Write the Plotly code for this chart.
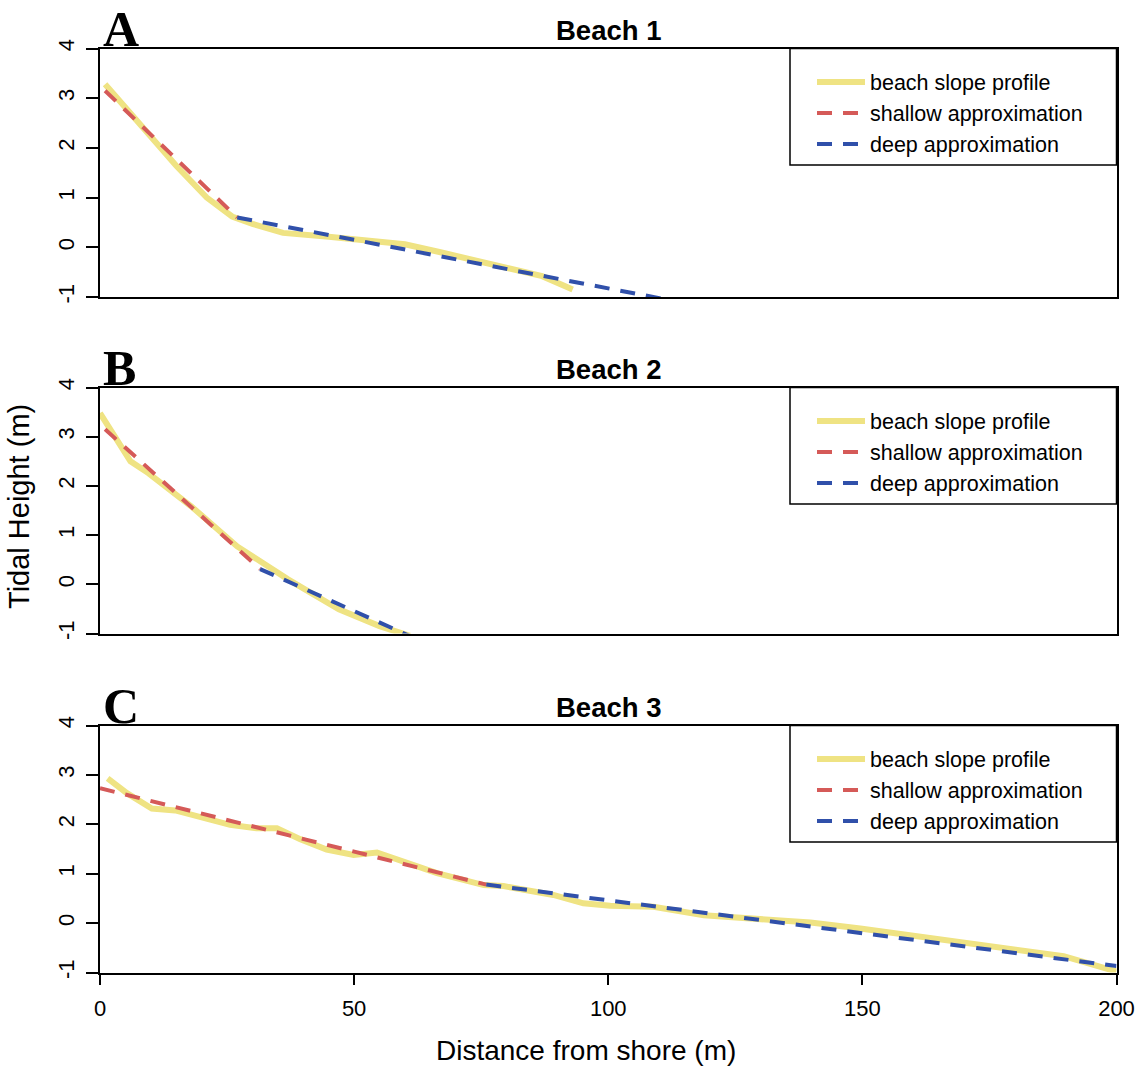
import plotly.graph_objects as go

# ---------------- data ----------------
profile_a_x = [1, 5, 10, 15, 21, 26, 30, 36, 45, 55, 60, 67, 75, 87, 93]
profile_a_y = [3.28, 2.82, 2.22, 1.64, 1.0, 0.62, 0.47, 0.29, 0.21, 0.09, 0.06, -0.1, -0.3, -0.58, -0.85]
shallow_a_x = [1, 27]
shallow_a_y = [3.15, 0.6]
deep_a_x = [27, 115]
deep_a_y = [0.6, -1.12]

profile_b_x = [0, 6, 9.5, 18, 27, 37, 47, 55, 61]
profile_b_y = [3.48, 2.5, 2.26, 1.58, 0.77, 0.1, -0.51, -0.85, -1.05]
shallow_b_x = [1, 31.5]
shallow_b_y = [3.15, 0.31]
deep_b_x = [31.5, 62]
deep_b_y = [0.31, -1.1]

profile_c_x = [1.5, 5.3, 10.2, 14.8, 25.6, 30.8, 34.8, 39.4, 44.6, 49.9, 54.5, 59.7, 66.3,
               75.5, 79.4, 89.2, 95.1, 100.4, 108.9, 118.8, 131.9, 139.8, 149.6, 170.6, 189.6, 200]
profile_c_y = [2.93, 2.63, 2.32, 2.28, 1.99, 1.92, 1.92, 1.70, 1.49, 1.38, 1.43, 1.24, 1.01,
               0.77, 0.75, 0.57, 0.40, 0.35, 0.33, 0.16, 0.05, 0.01, -0.11, -0.40, -0.67, -0.98]
shallow_c_x = [0, 76]
shallow_c_y = [2.73, 0.78]
deep_c_x = [76, 200]
deep_c_y = [0.78, -0.87]

panel_titles = ["Beach 1", "Beach 2", "Beach 3"]
panel_letters = ["A", "B", "C"]
series_names = ["beach slope profile", "shallow approximation", "deep approximation"]
y_ticks = [-1, 0, 1, 2, 3, 4]
y_tick_labels = ["-1", "0", "1", "2", "3", "4"]
x_ticks = [0, 50, 100, 150, 200]
x_tick_labels = ["0", "50", "100", "150", "200"]

# ---------------- styling ----------------
W, H = 1139, 1067
YELLOW = "#EFE383"
RED = "#D55A58"
BLUE = "#3050AA"
SANS = "Liberation Sans, Arial, Helvetica, sans-serif"
SERIF = "Liberation Serif, Times New Roman, serif"
DASH = "15px,11px"

def px_x(p):
    return p / W

def px_y(p):
    return 1 - p / H

x_dom = [px_x(100), px_x(1116.5)]
panel_px = [(48.5, 297), (387.5, 633.5), (725.5, 972.5)]

data = [
    (profile_a_x, profile_a_y, shallow_a_x, shallow_a_y, deep_a_x, deep_a_y),
    (profile_b_x, profile_b_y, shallow_b_x, shallow_b_y, deep_b_x, deep_b_y),
    (profile_c_x, profile_c_y, shallow_c_x, shallow_c_y, deep_c_x, deep_c_y),
]

fig = go.Figure()
layout = dict(
    width=W, height=H,
    margin=dict(l=0, r=0, t=0, b=0, pad=0, autoexpand=False),
    paper_bgcolor="white", plot_bgcolor="white",
    font=dict(family=SANS, color="black", size=22),
    showlegend=True,
)
annotations = []
shapes = []

for i, (pxs, pys, sxs, sys_, dxs, dys) in enumerate(data):
    n = "" if i == 0 else str(i + 1)
    xa, ya = "x" + n, "y" + n
    leg = "legend" + n
    fig.add_trace(go.Scatter(x=pxs, y=pys, mode="lines", name=series_names[0],
                             line=dict(color=YELLOW, width=6), xaxis=xa, yaxis=ya, legend=leg))
    fig.add_trace(go.Scatter(x=sxs, y=sys_, mode="lines", name=series_names[1],
                             line=dict(color=RED, width=4, dash=DASH), xaxis=xa, yaxis=ya, legend=leg))
    fig.add_trace(go.Scatter(x=dxs, y=dys, mode="lines", name=series_names[2],
                             line=dict(color=BLUE, width=4, dash=DASH), xaxis=xa, yaxis=ya, legend=leg))

    top, bot = panel_px[i]
    last = i == 2
    layout["xaxis" + n] = dict(
        domain=x_dom, range=[0, 200], anchor=ya, automargin=False,
        showline=True, linecolor="black", linewidth=1.5, mirror=True,
        showgrid=False, zeroline=False,
        tickmode="array", tickvals=x_ticks, ticktext=x_tick_labels,
        ticks="outside" if last else "", ticklen=11, tickwidth=1.5, tickcolor="black",
        showticklabels=last, tickfont=dict(size=22, family=SANS), ticklabelstandoff=4,
    )
    layout["yaxis" + n] = dict(
        domain=[px_y(bot), px_y(top)], range=[-1, 4], anchor=xa, automargin=False,
        showline=True, linecolor="black", linewidth=1.5, mirror=True,
        showgrid=False, zeroline=False,
        tickmode="array", tickvals=y_ticks, ticktext=y_tick_labels,
        ticks="outside", ticklen=12, tickwidth=1.5, tickcolor="black",
        tickangle=-90, tickfont=dict(size=22, family=SANS), ticklabelstandoff=3,
    )
    # legend with a box drawn as a rectangle shape
    layout[leg] = dict(
        x=px_x(812), y=px_y(top + 13), xanchor="left", yanchor="top",
        bgcolor="rgba(0,0,0,0)", borderwidth=0,
        font=dict(size=21.5, family=SANS), itemwidth=48, tracegroupgap=0,
    )
    shapes.append(dict(type="rect", xref="paper", yref="paper",
                       x0=px_x(790), x1=px_x(1116.5), y0=px_y(top + 116.5), y1=px_y(top),
                       line=dict(color="black", width=1.5), fillcolor="white", layer="below"))
    # panel title
    annotations.append(dict(text="<b>" + panel_titles[i] + "</b>", xref="paper", yref="paper",
                            x=px_x(608), y=px_y(top - 18), xanchor="center", yanchor="middle",
                            showarrow=False, font=dict(size=27.5, family=SANS)))
    # panel letter
    annotations.append(dict(text="<b>" + panel_letters[i] + "</b>", xref="paper", yref="paper",
                            x=px_x(102), y=px_y(top - 20), xanchor="left", yanchor="middle",
                            borderpad=0, showarrow=False, font=dict(size=50, family=SERIF)))

annotations.append(dict(text="Tidal Height (m)", xref="paper", yref="paper",
                        x=px_x(19), y=px_y(507), xanchor="center", yanchor="middle",
                        textangle=-90, showarrow=False, font=dict(size=29, family=SANS)))
annotations.append(dict(text="Distance from shore (m)", xref="paper", yref="paper",
                        x=px_x(586), y=px_y(1050), xanchor="center", yanchor="middle",
                        showarrow=False, font=dict(size=28, family=SANS)))

layout["annotations"] = annotations
layout["shapes"] = shapes
fig.update_layout(**layout)
fig.write_html("out.html")
